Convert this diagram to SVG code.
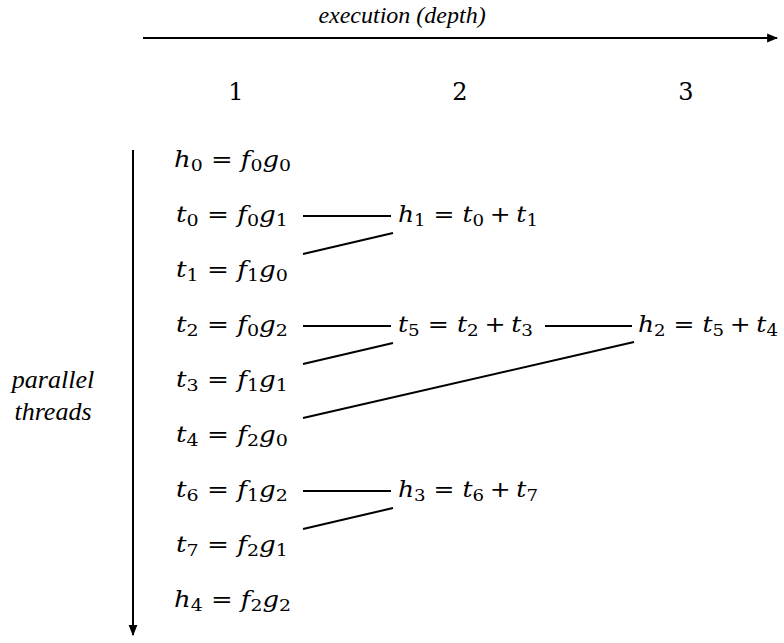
<svg xmlns="http://www.w3.org/2000/svg" width="784" height="643" viewBox="0 0 784 643">
<style>
text{font-family:'Liberation Serif','Times New Roman',serif;fill:#000}
.m{font-family:'DejaVu Serif','Liberation Serif',serif;font-size:22px}
.i{font-style:italic}
.s{font-size:16px;font-style:normal}
.lab{font-size:24px;font-style:italic}
.side{font-size:26px;font-style:italic}
.num{font-family:'DejaVu Serif','Liberation Serif',serif;font-size:24px}
.c line{stroke:#000;stroke-width:2}
</style>
<defs>
<marker id="ah" viewBox="0 0 10 10" refX="9" refY="5" markerWidth="11" markerHeight="11" markerUnits="userSpaceOnUse" orient="auto"><path d="M0,1 L10,5 L0,9 z" fill="#000"/></marker>
</defs>
<rect width="784" height="643" fill="#fff"/>
<g id="axes">
<line x1="143" y1="38" x2="777" y2="38" stroke="#000" stroke-width="2" marker-end="url(#ah)"/>
<text class="lab" x="402" y="23" text-anchor="middle">execution (depth)</text>
<text class="num" x="236" y="100" text-anchor="middle">1</text>
<text class="num" x="460" y="100" text-anchor="middle">2</text>
<text class="num" x="686" y="100" text-anchor="middle">3</text>
<line x1="133" y1="150" x2="133" y2="635" stroke="#000" stroke-width="2" marker-end="url(#ah)"/>
<text class="side" x="53" y="388" text-anchor="middle">parallel</text>
<text class="side" x="53" y="420" text-anchor="middle">threads</text>
</g>
<g class="c" id="connectors">
<line x1="303" y1="216" x2="391" y2="216"/>
<line x1="303" y1="254" x2="393" y2="233"/>
<line x1="303" y1="326" x2="391" y2="326"/>
<line x1="303" y1="364" x2="393" y2="343"/>
<line x1="545" y1="326" x2="632" y2="326"/>
<line x1="303" y1="418" x2="634" y2="342"/>
<line x1="303" y1="491" x2="391" y2="491"/>
<line x1="303" y1="529" x2="393" y2="508"/>
</g>
<g id="h0"><text class="m" x="174" y="167" textLength="117" lengthAdjust="spacingAndGlyphs"><tspan class="i">h</tspan><tspan class="s" dy="4">0</tspan><tspan dx="7" dy="-4">=</tspan><tspan class="i" dx="7">f</tspan><tspan class="s" dy="4">0</tspan><tspan class="i" dy="-4">g</tspan><tspan class="s" dy="4">0</tspan></text></g>
<g id="t0"><text class="m" x="176" y="222" textLength="112" lengthAdjust="spacingAndGlyphs"><tspan class="i">t</tspan><tspan class="s" dy="4">0</tspan><tspan dx="7" dy="-4">=</tspan><tspan class="i" dx="7">f</tspan><tspan class="s" dy="4">0</tspan><tspan class="i" dy="-4">g</tspan><tspan class="s" dy="4">1</tspan></text></g>
<g id="t1"><text class="m" x="176" y="277" textLength="112" lengthAdjust="spacingAndGlyphs"><tspan class="i">t</tspan><tspan class="s" dy="4">1</tspan><tspan dx="7" dy="-4">=</tspan><tspan class="i" dx="7">f</tspan><tspan class="s" dy="4">1</tspan><tspan class="i" dy="-4">g</tspan><tspan class="s" dy="4">0</tspan></text></g>
<g id="t2"><text class="m" x="176" y="332" textLength="112" lengthAdjust="spacingAndGlyphs"><tspan class="i">t</tspan><tspan class="s" dy="4">2</tspan><tspan dx="7" dy="-4">=</tspan><tspan class="i" dx="7">f</tspan><tspan class="s" dy="4">0</tspan><tspan class="i" dy="-4">g</tspan><tspan class="s" dy="4">2</tspan></text></g>
<g id="t3"><text class="m" x="176" y="387" textLength="112" lengthAdjust="spacingAndGlyphs"><tspan class="i">t</tspan><tspan class="s" dy="4">3</tspan><tspan dx="7" dy="-4">=</tspan><tspan class="i" dx="7">f</tspan><tspan class="s" dy="4">1</tspan><tspan class="i" dy="-4">g</tspan><tspan class="s" dy="4">1</tspan></text></g>
<g id="t4"><text class="m" x="176" y="442" textLength="112" lengthAdjust="spacingAndGlyphs"><tspan class="i">t</tspan><tspan class="s" dy="4">4</tspan><tspan dx="7" dy="-4">=</tspan><tspan class="i" dx="7">f</tspan><tspan class="s" dy="4">2</tspan><tspan class="i" dy="-4">g</tspan><tspan class="s" dy="4">0</tspan></text></g>
<g id="t6"><text class="m" x="176" y="497" textLength="112" lengthAdjust="spacingAndGlyphs"><tspan class="i">t</tspan><tspan class="s" dy="4">6</tspan><tspan dx="7" dy="-4">=</tspan><tspan class="i" dx="7">f</tspan><tspan class="s" dy="4">1</tspan><tspan class="i" dy="-4">g</tspan><tspan class="s" dy="4">2</tspan></text></g>
<g id="t7"><text class="m" x="176" y="552" textLength="112" lengthAdjust="spacingAndGlyphs"><tspan class="i">t</tspan><tspan class="s" dy="4">7</tspan><tspan dx="7" dy="-4">=</tspan><tspan class="i" dx="7">f</tspan><tspan class="s" dy="4">2</tspan><tspan class="i" dy="-4">g</tspan><tspan class="s" dy="4">1</tspan></text></g>
<g id="h4"><text class="m" x="174" y="607" textLength="117" lengthAdjust="spacingAndGlyphs"><tspan class="i">h</tspan><tspan class="s" dy="4">4</tspan><tspan dx="7" dy="-4">=</tspan><tspan class="i" dx="7">f</tspan><tspan class="s" dy="4">2</tspan><tspan class="i" dy="-4">g</tspan><tspan class="s" dy="4">2</tspan></text></g>
<g id="h1"><text class="m" x="398" y="222" textLength="140" lengthAdjust="spacingAndGlyphs"><tspan class="i">h</tspan><tspan class="s" dy="4">1</tspan><tspan dx="7" dy="-4">=</tspan><tspan class="i" dx="7">t</tspan><tspan class="s" dy="4">0</tspan><tspan dx="5" dy="-4">+</tspan><tspan class="i" dx="5">t</tspan><tspan class="s" dy="4">1</tspan></text></g>
<g id="t5"><text class="m" x="398" y="332" textLength="135" lengthAdjust="spacingAndGlyphs"><tspan class="i">t</tspan><tspan class="s" dy="4">5</tspan><tspan dx="7" dy="-4">=</tspan><tspan class="i" dx="7">t</tspan><tspan class="s" dy="4">2</tspan><tspan dx="5" dy="-4">+</tspan><tspan class="i" dx="5">t</tspan><tspan class="s" dy="4">3</tspan></text></g>
<g id="h3"><text class="m" x="398" y="497" textLength="140" lengthAdjust="spacingAndGlyphs"><tspan class="i">h</tspan><tspan class="s" dy="4">3</tspan><tspan dx="7" dy="-4">=</tspan><tspan class="i" dx="7">t</tspan><tspan class="s" dy="4">6</tspan><tspan dx="5" dy="-4">+</tspan><tspan class="i" dx="5">t</tspan><tspan class="s" dy="4">7</tspan></text></g>
<g id="h2"><text class="m" x="638" y="332" textLength="140" lengthAdjust="spacingAndGlyphs"><tspan class="i">h</tspan><tspan class="s" dy="4">2</tspan><tspan dx="7" dy="-4">=</tspan><tspan class="i" dx="7">t</tspan><tspan class="s" dy="4">5</tspan><tspan dx="5" dy="-4">+</tspan><tspan class="i" dx="5">t</tspan><tspan class="s" dy="4">4</tspan></text></g>
</svg>
